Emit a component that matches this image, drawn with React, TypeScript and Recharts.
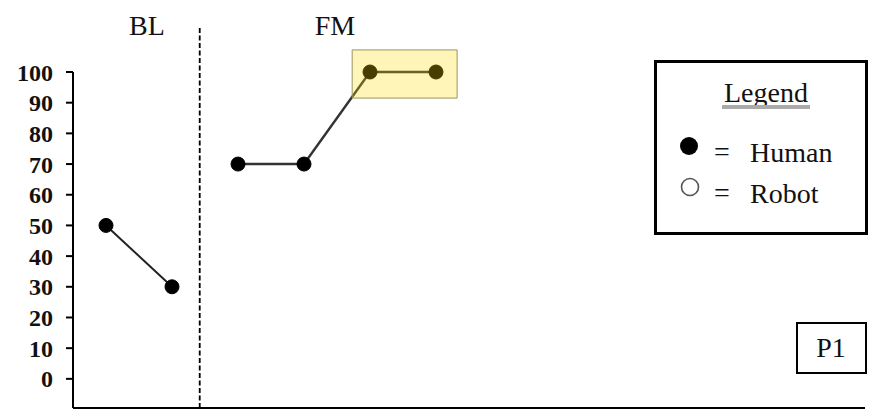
import React from "react";
import {
  LineChart,
  Line,
  XAxis,
  YAxis,
  ReferenceLine,
  ReferenceArea,
} from "recharts";

// ---- data ----
const sessions = [1, 2, 3, 4, 5, 6, 7, 8, 9, 10, 11, 12];
const baselineValues: (number | null)[] = [50, 30, null, null, null, null, null, null, null, null, null, null];
const fmValues: (number | null)[] = [null, null, 70, 70, 100, 100, null, null, null, null, null, null];
const yTicks = [0, 10, 20, 30, 40, 50, 60, 70, 80, 90, 100];
const phaseLabels = ["BL", "FM"];
const phaseChangeAt = 2.42;
const highlight = { x1: 4.73, x2: 6.32, y1: 91.5, y2: 107.2 };
const legendTitle = "Legend";
const legendItems = ["Human", "Robot"];
const participant = "P1";

const data = sessions.map((s, i) => ({
  session: s,
  bl: baselineValues[i],
  fm: fmValues[i],
}));

const serif = "'Liberation Serif', 'Times New Roman', serif";

export default function App() {
  return (
    <div
      style={{
        position: "absolute",
        left: 0,
        top: 0,
        width: 873,
        height: 410,
        background: "#fff",
        overflow: "hidden",
      }}
    >
      <LineChart
        width={873}
        height={410}
        data={data}
        margin={{ top: 72, right: 8, left: 13, bottom: 0 }}
      >
        <XAxis
          dataKey="session"
          type="number"
          domain={[0.5, 12.5]}
          ticks={sessions}
          tick={false}
          height={2}
          tickSize={7}
          axisLine={{ stroke: "#000", strokeWidth: 2 }}
          tickLine={{ stroke: "#000", strokeWidth: 1.5 }}
        />
        <YAxis
          type="number"
          domain={[-9.5, 100]}
          ticks={yTicks}
          interval={0}
          width={60}
          tickSize={7}
          tickMargin={13}
          axisLine={{ stroke: "#000", strokeWidth: 2 }}
          tickLine={{ stroke: "#000", strokeWidth: 2 }}
          tick={{
            fontFamily: serif,
            fontWeight: "bold",
            fontSize: 24,
            fill: "#111",
          }}
        />
        <ReferenceLine
          segment={[
            { x: phaseChangeAt, y: 114.3 },
            { x: phaseChangeAt, y: -9.5 },
          ]}
          stroke="#000"
          strokeWidth={1.8}
          strokeDasharray="5 2.5"
          ifOverflow="visible"
        />
        <Line
          dataKey="bl"
          stroke="#222"
          strokeWidth={2}
          connectNulls={false}
          isAnimationActive={false}
          dot={{ r: 7, fill: "#000", stroke: "#000", strokeWidth: 1 }}
          activeDot={false}
        />
        <Line
          dataKey="fm"
          stroke="#333"
          strokeWidth={2.4}
          connectNulls={false}
          isAnimationActive={false}
          dot={{ r: 7, fill: "#000", stroke: "#000", strokeWidth: 1 }}
          activeDot={false}
        />
        <ReferenceArea
          x1={highlight.x1}
          x2={highlight.x2}
          y1={highlight.y1}
          y2={highlight.y2}
          fill="rgb(255,218,0)"
          fillOpacity={0.28}
          stroke="#9a9460"
          strokeWidth={1}
          ifOverflow="visible"
          zIndex={2000}
        />
      </LineChart>
      <svg
        width={873}
        height={410}
        style={{ position: "absolute", left: 0, top: 0, pointerEvents: "none" }}
      >
        <text x={147} y={35} textAnchor="middle" fontFamily={serif} fontSize={28} fill="#111">
          {phaseLabels[0]}
        </text>
        <text x={335} y={35} textAnchor="middle" fontFamily={serif} fontSize={28} fill="#111">
          {phaseLabels[1]}
        </text>
        {/* legend box */}
        <rect x={655.5} y={61.5} width={211} height={172} fill="#fff" stroke="#000" strokeWidth={3} />
        <text x={766} y={102} textAnchor="middle" fontFamily={serif} fontSize={28} fill="#111">
          {legendTitle}
        </text>
        <rect x={722} y={105} width={88} height={4} fill="#aaa" />
        <circle cx={689} cy={146} r={9} fill="#000" />
        <text x={722} y={161} textAnchor="middle" fontFamily={serif} fontSize={28} fill="#111">=</text>
        <text x={750} y={162} fontFamily={serif} fontSize={28} fill="#111">
          {legendItems[0]}
        </text>
        <circle cx={690} cy={187} r={8.5} fill="#fff" stroke="#555" strokeWidth={1.6} />
        <text x={722} y={202} textAnchor="middle" fontFamily={serif} fontSize={28} fill="#111">=</text>
        <text x={750} y={203} fontFamily={serif} fontSize={28} fill="#111">
          {legendItems[1]}
        </text>
        {/* participant box */}
        <rect x={797} y={323} width={69} height={50} fill="#fff" stroke="#000" strokeWidth={2} />
        <text x={831} y={357} textAnchor="middle" fontFamily={serif} fontSize={28} fill="#111">
          {participant}
        </text>
      </svg>
    </div>
  );
}
